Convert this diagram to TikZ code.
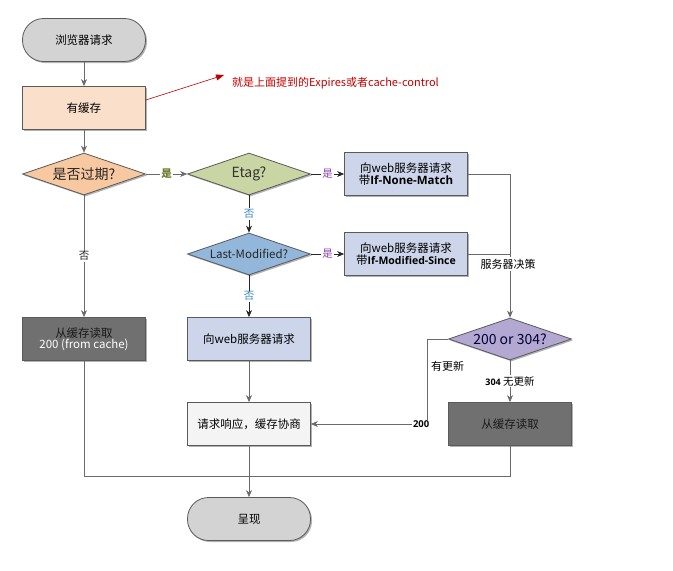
\documentclass[tikz,border=0pt]{standalone}
\usepackage{fontspec}
\setmainfont{Noto Sans CJK SC}
\newfontfamily\latinb{Open Sans}
\usetikzlibrary{shapes.geometric,arrows.meta,shadows}
\definecolor{bordc}{HTML}{5A5A5A}
\definecolor{linec}{HTML}{6A6A6A}
\definecolor{pillc}{HTML}{D3D3D3}
\definecolor{peachc}{HTML}{FADFCB}
\definecolor{orangec}{HTML}{F8C9A0}
\definecolor{greenc}{HTML}{C9D6A4}
\definecolor{bluec}{HTML}{93B7DA}
\definecolor{lavc}{HTML}{CDD5EA}
\definecolor{darkc}{HTML}{707070}
\definecolor{purpc}{HTML}{B3A8D2}
\definecolor{whitec}{HTML}{F4F4F4}
\definecolor{redc}{HTML}{C00000}
\definecolor{olivec}{HTML}{6E7B2C}
\definecolor{purplab}{HTML}{8A3FA8}
\definecolor{bluelab}{HTML}{3A86BE}
\definecolor{darktext}{HTML}{1A1A1A}
\begin{document}
\begin{tikzpicture}[x=1pt,y=-1pt,
  shad/.style={drop shadow={shadow xshift=1.5pt,shadow yshift=-1.5pt,opacity=0.3,fill=black}},
  boxst/.style={draw=bordc,line width=0.8pt,minimum width=123pt,minimum height=43pt,inner sep=2pt,font=\fontsize{11.5}{13}\selectfont,align=center,shad},
  pillst/.style={boxst,rounded corners=21pt,fill=pillc},
  diast/.style={diamond,draw=bordc,line width=0.8pt,minimum width=123pt,minimum height=42pt,inner sep=0pt,aspect=2.9,shad},
  conn/.style={draw=linec,line width=0.8pt},
  arr/.style={conn,-{Stealth[length=7pt,width=6pt]}},
  lab/.style={fill=white,inner sep=1pt,font=\fontsize{10.5}{12}\selectfont}
]
\useasboundingbox (0,0) rectangle (673,571);
% nodes
\node[pillst] (start) at (84,40) {浏览器请求};
\node[boxst,fill=peachc] (cache) at (84,108) {有缓存};
\node[diast,fill=orangec,label={[font=\fontsize{14}{16}\selectfont,text=black!85]center:是否过期?}] (expired) at (84,174) {};
\node[diast,fill=greenc,label={[font=\fontsize{14}{16}\selectfont,text=black!80]center:Etag?}] (etag) at (249,174) {};
\node[boxst,fill=lavc] (nonematch) at (406,174) {向web服务器请求\\[-1pt]带{\latinb\bfseries If-None-Match}};
\node[diast,fill=bluec,label={[font=\fontsize{11.5}{13}\selectfont,text=black!85]center:Last-Modified?}] (lastmod) at (249,254) {};
\node[boxst,fill=lavc] (modsince) at (406,254) {向web服务器请求\\[-1pt]带{\latinb\bfseries\fontsize{10.5}{12}\selectfont If-Modified-Since}};
\node[diast,fill=purpc,label={[font=\fontsize{14}{16}\selectfont,text=black!80!blue]center:200 or 304?}] (code) at (510,339) {};
\node[boxst,fill=darkc,text opacity=1] (fromcache) at (84,339) {{\color{darktext}从缓存读取}\\[-2pt]{\color{white}200 (from cache)}};
\node[boxst,fill=lavc] (webreq) at (249,339) {向web服务器请求};
\node[boxst,fill=darkc,text=darktext,text opacity=1] (cache2) at (510,424) {从缓存读取};
\node[boxst,fill=whitec] (negot) at (249,424) {请求响应，缓存协商};
\node[pillst] (present) at (249,519) {呈现};
% annotation
\coordinate (annot) at (224,75);
\draw[redc,line width=0.6pt,-{Triangle[length=8pt,width=6pt]}] ([yshift=8pt]cache.east) -- (annot);
\node[anchor=west,text=redc,font=\fontsize{11}{13}\selectfont,inner sep=0pt] (annottext) at (232,83) {就是上面提到的Expires或者cache-control};
% connectors
\draw[arr] (start) -- (cache);
\draw[arr] (cache) -- (expired);
\draw[arr] (expired) -- node[lab,text=olivec,font=\fontsize{10.5}{12}\selectfont\bfseries]{是} (etag);
\draw[arr] (expired) -- node[lab,text=black!85]{否} (fromcache);
\draw[arr,draw=black!85] (etag) -- node[lab,text=purplab]{是} (nonematch);
\draw[arr,draw=black!85] (etag) -- node[lab,text=bluelab]{否} (lastmod);
\draw[arr,draw=black!85] (lastmod) -- node[lab,text=purplab]{是} (modsince);
\draw[arr,draw=black!85] (lastmod) -- node[lab,text=bluelab]{否} (webreq);
\draw[arr] (nonematch.east) -| (code.north);
\draw[conn] (modsince.east) -- (modsince.east -| code.north) coordinate (mjoin);
\node[lab,font=\fontsize{11}{13}\selectfont,anchor=west,inner sep=1.5pt,draw=white] (decide) at (479,264) {服务器决策};
\draw[arr] (code) -- node[lab,font=\fontsize{10.5}{12}\selectfont,pos=0.5]{{\latinb\bfseries\fontsize{9}{11}\selectfont 304} 无更新} (cache2);
\coordinate (bendA) at (427,339);
\coordinate (bendB) at (427,424);
\draw[arr] (code.west) -- (bendA) -- (bendB) -- node[lab,pos=0.05]{\latinb\bfseries\fontsize{9.5}{11}\selectfont 200} (negot.east);
\node[font=\fontsize{11}{13}\selectfont,anchor=west,inner sep=1pt] (upd) at (430,366) {有更新};
\draw[arr] (webreq) -- (negot);
\coordinate (join) at (249,476);
\draw[conn] (fromcache.south) |- (join);
\draw[conn] (cache2.south) |- (join);
\draw[arr] (negot) -- (present);
\end{tikzpicture}
\end{document}
